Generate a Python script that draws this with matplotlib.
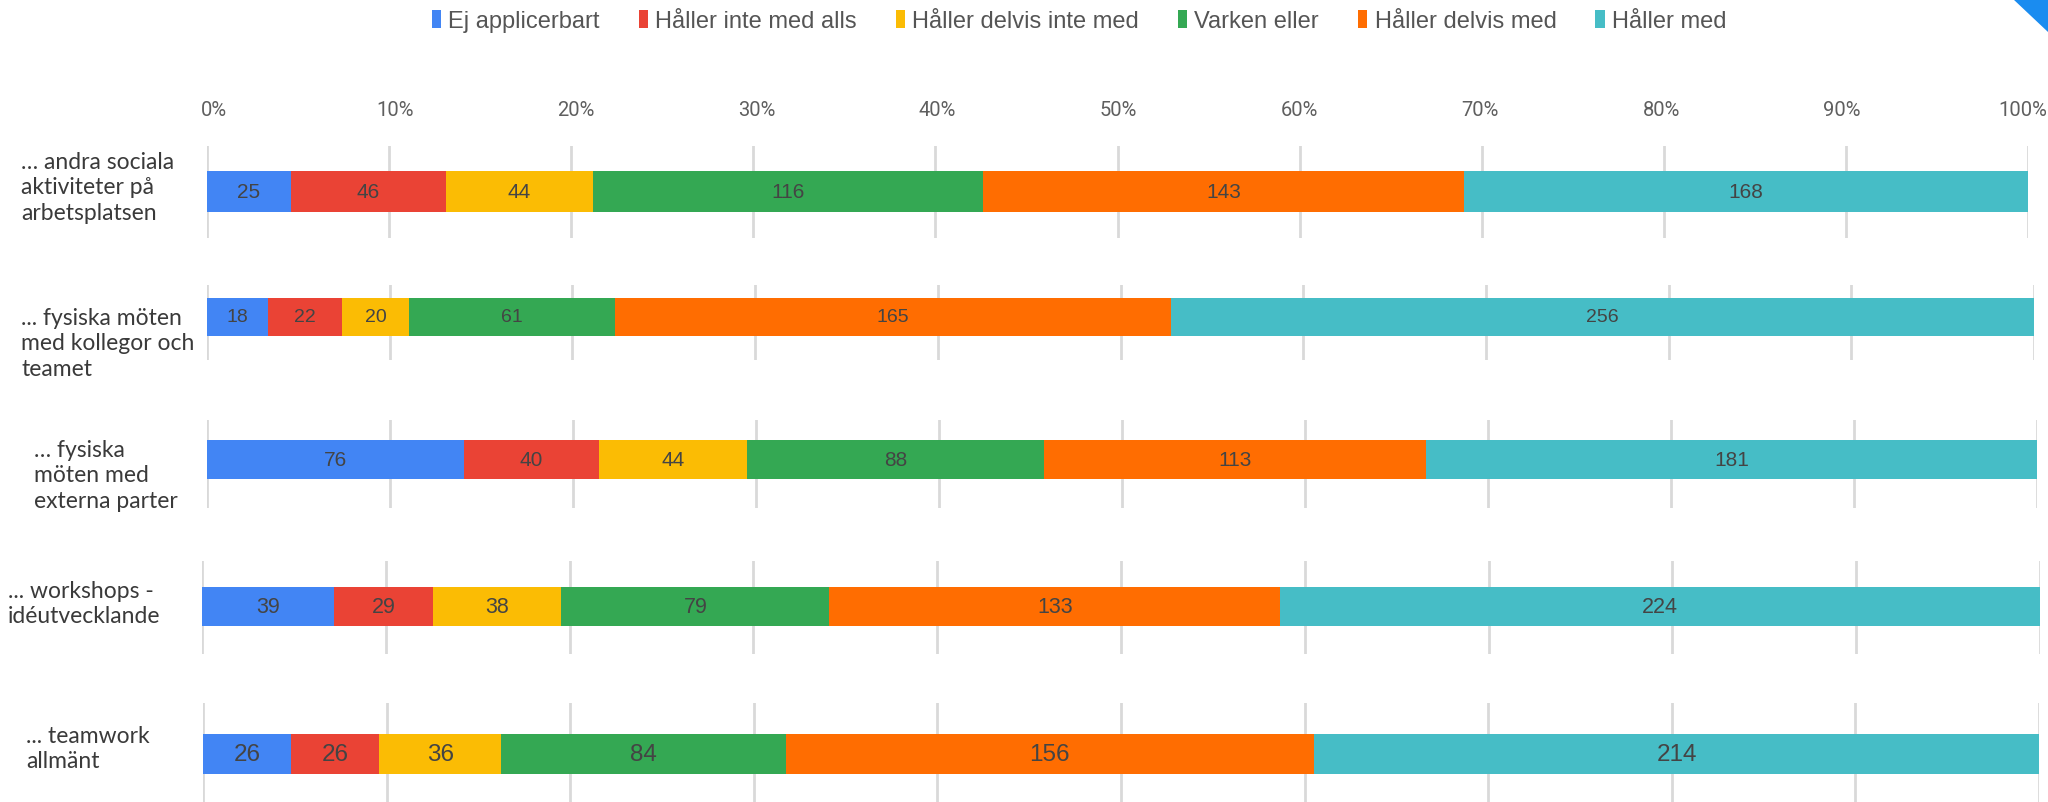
import matplotlib.pyplot as plt
from matplotlib.patches import Patch, Polygon
import numpy as np

categories = ["Ej applicerbart", "Håller inte med alls", "Håller delvis inte med",
              "Varken eller", "Håller delvis med", "Håller med"]
colors = ["#4285F4", "#EA4335", "#FBBC04", "#34A853", "#FF6D01", "#46BDC6"]

row_labels = [
    "… andra sociala\naktiviteter på\narbetsplatsen",
    "... fysiska möten\nmed kollegor och\nteamet",
    "… fysiska\nmöten med\nexterna parter",
    "... workshops -\nidéutvecklande",
    "... teamwork\nallmänt",
]
andra_sociala = [25, 46, 44, 116, 143, 168]
fysiska_kollegor = [18, 22, 20, 61, 165, 256]
fysiska_externa = [76, 40, 44, 88, 113, 181]
workshops = [39, 29, 38, 79, 133, 224]
teamwork = [26, 26, 36, 84, 156, 214]
rows = [andra_sociala, fysiska_kollegor, fysiska_externa, workshops, teamwork]
ticks = list(range(0, 101, 10))

W, H = 2048, 803
# layout in pixels: x0, x1, grid top, grid bottom, bar top, bar bottom, label x, label centre y, value font size
layout = [
    (207, 2028, 147, 239, 172, 213, 21, 188, 15),
    (207, 2034, 286, 361, 299, 337, 21, 344, 14),
    (207, 2037, 421, 509, 441, 480, 34, 476, 15),
    (202, 2040, 562, 655, 588, 627, 8, 604, 15.5),
    (203, 2039, 704, 810, 735, 775, 26, 749, 17.5),
]

fig = plt.figure(figsize=(W / 100, H / 100), dpi=100)
fig.patch.set_facecolor("white")

for vals, lab, (x0, x1, gt, gb, bt, bb, lx, ly, fs) in zip(rows, row_labels, layout):
    ax = fig.add_axes([x0 / W, 1 - gb / H, (x1 - x0) / W, (gb - gt) / H])
    vals = np.array(vals)
    pct = vals / vals.sum() * 100
    left = np.concatenate([[0], np.cumsum(pct)[:-1]])
    yc = (gb - (bt + bb) / 2) / (gb - gt)
    hh = (bb - bt) / (gb - gt)
    for v, p, l, c in zip(vals, pct, left, colors):
        bars = ax.barh(yc, p, left=l, height=hh, color=c, linewidth=0, zorder=2)
        ax.bar_label(bars, labels=[str(v)], label_type="center", fontsize=fs,
                     color="#444444", family="Liberation Sans")
    ax.set_xlim(0, 100)
    ax.set_ylim(0, 1)
    ax.set_xticks(ticks)
    ax.set_yticks([])
    ax.grid(axis="x", color="#d9d9d9", linewidth=2, zorder=0)
    ax.tick_params(length=0, labelbottom=False)
    for s in ax.spines.values():
        s.set_visible(False)
    ax.set_facecolor("none")
    lines = lab.split("\n")
    step = 25.5
    for i, line in enumerate(lines):
        yy = ly + (i - (len(lines) - 1) / 2) * step
        fig.text(lx / W, 1 - yy / H, line, ha="left", va="center", fontsize=16.5,
                 family="Lato", color="#3a3a3a")

# percentage axis labels
tax = fig.add_axes([214 / W, 1 - 111 / H, (2023 - 214) / W, 0.001])
tax.set_xlim(0, 100)
tax.axis("off")
for t in ticks:
    tax.text(t, 0, f"{t}%", ha="center", va="center", fontsize=14.5,
             family="Roboto", color="#5f5f5f")

handles = [Patch(facecolor=c, edgecolor="none") for c in colors]
fig.legend(handles, categories, loc="center", bbox_to_anchor=(1079 / W, 1 - 22 / H),
           ncol=6, frameon=False, handlelength=0.4, handleheight=0.8,
           handletextpad=0.3, columnspacing=1.65,
           prop={"family": "Liberation Sans", "size": 17}, labelcolor="#555555")

fig.patches.append(Polygon([(2013 / W, 1), (1, 1), (1, 1 - 33 / H)], closed=True,
                           transform=fig.transFigure, facecolor="#1a8cf0", edgecolor="none"))

fig.savefig("out.png", dpi=100)
